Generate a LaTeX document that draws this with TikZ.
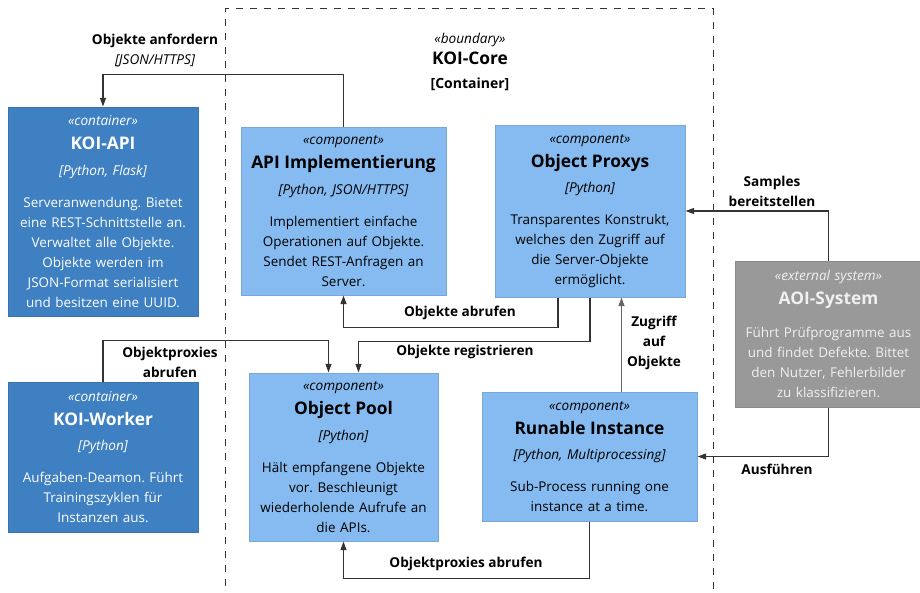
\documentclass[tikz,border=0pt]{standalone}
\usepackage{fontspec}
\setmainfont{Open Sans}
\frenchspacing
\usetikzlibrary{arrows.meta,calc,positioning}

\definecolor{contfill}{HTML}{3E80C2}
\definecolor{contdraw}{HTML}{3A74AE}
\definecolor{compfill}{HTML}{85BBF0}
\definecolor{compdraw}{HTML}{78A8D8}
\definecolor{extfill}{HTML}{999999}
\definecolor{extdraw}{HTML}{8A8A8A}
\definecolor{relline}{HTML}{333333}

% stereotype, title, technology, description
\newcommand{\cfour}[4]{{\fontsize{10.2}{12}\selectfont\itshape «#1»}\\[3pt]{\fontsize{13}{15}\selectfont\bfseries #2}\\[4pt]{\fontsize{10.2}{12}\selectfont\itshape [#3]}\\[9pt]#4}
% same without technology
\newcommand{\cfourext}[3]{{\fontsize{10.2}{12}\selectfont\itshape «#1»}\\[3pt]{\fontsize{13}{15}\selectfont\bfseries #2}\\[10pt]#3}

\begin{document}
\begin{tikzpicture}[x=0.75pt,y=-0.75pt,
  box/.style={rectangle,draw,line width=0.75pt,align=center,inner sep=0pt,font=\fontsize{10.1}{15}\selectfont},
  cont/.style={box,fill=contfill,draw=contdraw,text=white},
  comp/.style={box,fill=compfill,draw=compdraw,text=black},
  ext/.style={box,fill=extfill,draw=extdraw,text=white!94!black},
  rel/.style={draw=relline,line width=0.8pt,-{Triangle[length=6.5pt,width=4.5pt]}},
  lbl/.style={align=center,font=\fontsize{10.2}{15}\selectfont\bfseries,inner sep=1pt}]

  \useasboundingbox (0,0) rectangle (920,592);

  % boundary
  \draw[relline,line width=0.75pt,dash pattern=on 5.25pt off 5.25pt] (225,600) -- (225,9) -- (713,9) -- (713,600);
  \node[align=center] (core) at (470,62) {{\fontsize{10.2}{12}\selectfont\itshape «boundary»}\\[4pt]{\fontsize{13}{15}\selectfont\bfseries KOI-Core}\\[6pt]{\fontsize{10.5}{12}\selectfont\bfseries [Container]}};

  % containers
  \node[cont,minimum width=142.5pt,minimum height=156.75pt,text width=138pt] (api) at (103,211.5)
    {\cfour{container}{KOI-API}{Python, Flask}{Serveranwendung. Bietet\\eine REST-Schnittstelle an.\\Verwaltet alle Objekte.\\Objekte werden im\\JSON-Format serialisiert\\und besitzen eine UUID.}};
  \node[cont,minimum width=142.5pt,minimum height=112.5pt,text width=138pt] (worker) at (103,457)
    {\cfour{container}{KOI-Worker}{Python}{Aufgaben-Deamon. Führt\\Trainingszyklen für\\Instanzen aus.}};

  % components
  \node[comp,minimum width=153.75pt,minimum height=126pt,text width=149pt] (impl) at (343.5,211)
    {\cfour{component}{API Implementierung}{Python, JSON/HTTPS}{Implementiert einfache\\Operationen auf Objekte.\\Sendet REST-Anfragen an\\Server.}};
  \node[comp,minimum width=142.5pt,minimum height=129pt,text width=138pt] (prox) at (590,211)
    {\cfour{component}{Object Proxys}{Python}{Transparentes Konstrukt,\\welches den Zugriff auf\\die Server-Objekte\\ermöglicht.}};
  \node[comp,minimum width=141.75pt,minimum height=126pt,text width=138pt] (pool) at (343.5,457)
    {\cfour{component}{Object Pool}{Python}{Hält empfangene Objekte\\vor. Beschleunigt\\wiederholende Aufrufe an\\die APIs.}};
  \node[comp,minimum width=161.25pt,minimum height=96.75pt,text width=156pt] (run) at (589.5,456.5)
    {\cfour{component}{Runable Instance}{Python, Multiprocessing}{Sub-Process running one\\instance at a time.}};

  % external system
  \node[ext,minimum width=140.25pt,minimum height=109.5pt,text width=138pt] (aoi) at (828.5,334)
    {\cfourext{external system}{AOI-System}{Führt Prüfprogramme aus\\und findet Defekte. Bittet\\den Nutzer, Fehlerbilder\\zu klassifizieren.}};

  % relations
  \draw[rel] (impl.north) -- ++(0,-52) -| (api.north);
  \draw[rel] ($(prox.south)+(-32,0)$) -- ++(0,30) -| (impl.south);
  \draw[rel] (prox.south) -- ++(0,44) -| ($(pool.north)+(15,0)$);
  \draw[rel] (worker.north) -- ++(0,-41) -| ($(pool.north)+(-15,0)$);
  \draw[rel,draw=relline!75] ($(run.north)+(32,0)$) coordinate (zug) -- (zug |- prox.south);
  \draw[rel] (run.south) -- ++(0,57) -| (pool.south);
  \draw[rel] (aoi.north) |- (prox.east);
  \draw[rel] (aoi.south) |- (run.east);

  % relation labels
  \node[lbl] (l1) at (155,51) {Objekte anfordern\\{\mdseries\itshape [JSON/HTTPS]}};
  \node[lbl] (l2) at (460,313) {Objekte abrufen};
  \node[lbl] (l3) at (465,352) {Objekte registrieren};
  \node[lbl] (l4) at (170,362) {Objektproxies\\abrufen};
  \node[lbl] (l5) at (654,343) {Zugriff\\auf\\Objekte};
  \node[lbl] (l6) at (466,564) {Objektproxies abrufen};
  \node[lbl] (l7) at (772,191) {Samples\\bereitstellen};
  \node[lbl] (l8) at (777,469) {Ausführen};
\end{tikzpicture}
\end{document}
